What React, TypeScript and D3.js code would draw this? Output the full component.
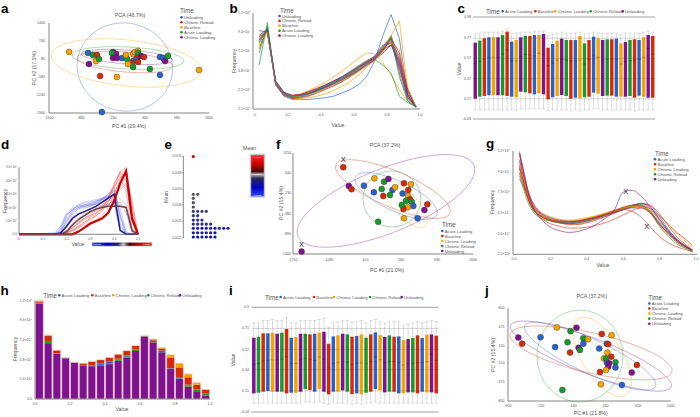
import React from "react";
import * as d3 from "d3";

const FONT = "'Liberation Sans', Arial, Helvetica, sans-serif";
const PALETTE = ["#2a62c8", "#d42a08", "#f4a400", "#17992c", "#7e138f"];
const TXT = "#555";

const LEGEND_AB = ["Unloading", "Chronic Reload", "Baseline", "Acute Loading", "Chronic Loading"];
const LEGEND_STD = ["Acute Loading", "Baseline", "Chronic Loading", "Chronic Reload", "Unloading"];

// ---------------- a: PCA ----------------
const pcaA = [
  [-1110, 340, 2], [-745, 300, 0], [-650, 225, 3], [-570, 225, 1], [-590, 5, 2], [-530, 80, 3], [-725, -105, 4],
  [-260, 340, 4], [-200, 265, 4], [-280, 300, 3], [-260, 115, 4], [-180, 115, 4], [-85, 115, 0], [10, 80, 3],
  [-10, 225, 2], [30, -105, 2], [130, -215, 3], [130, 5, 1], [130, 265, 2], [165, 340, 2], [225, 375, 2],
  [225, 300, 3], [205, 115, 1], [185, 45, 0], [225, -30, 1], [285, 190, 4], [340, 155, 1], [455, -285, 3],
  [650, 155, 0], [730, 80, 1], [710, 115, 0], [750, 5, 4], [805, 190, 3], [-510, -545, 1], [-185, -580, 2],
  [650, -505, 0], [1405, -325, 2], [-475, -1865, 0],
];
const ellA = [
  [-30, -215, 930, 1615, 12, 0],
  [0, -65, 1470, 845, 6, 2],
  [30, 115, 1085, 405, 3, 3],
  [-30, -30, 930, 365, 5, 1],
  [10, 155, 890, 255, 4, 4],
];
const aXTicks = [-1500, -880, -260, 360, 980, 1600];
const aYTicks = [1400, 740, 80, -580, -1240, -1900];

// ---------------- b: frequency lines ----------------
const bX = [0.025, 0.075, 0.125, 0.175, 0.225, 0.275, 0.325, 0.375, 0.425, 0.475, 0.525, 0.575, 0.625, 0.675, 0.725, 0.775, 0.825, 0.875, 0.925, 0.975];
const bColors = [4, 3, 1, 2, 0, 2, 2, 3, 4, 1, 0, 3, 1, 4, 2, 0];
const bSeries = [
  [92, 100, 33, 19, 15, 16, 19, 23, 27, 32, 37, 43, 50, 57, 63, 74, 86, 52, 16, 3],
  [55, 108, 30, 18, 14, 15, 18, 22, 26, 31, 36, 42, 49, 56, 62, 72, 92, 60, 18, 2],
  [88, 96, 35, 20, 16, 17, 20, 24, 28, 33, 38, 44, 51, 58, 64, 76, 88, 55, 14, 3],
  [80, 95, 31, 19, 16, 18, 21, 25, 29, 34, 39, 45, 52, 58, 62, 70, 82, 62, 20, 3],
  [82, 100, 30, 16, 12, 12, 12, 13, 14, 16, 20, 24, 30, 40, 60, 92, 118, 88, 18, 2],
  [78, 97, 33, 20, 17, 19, 23, 28, 33, 40, 47, 55, 63, 70, 69, 58, 42, 24, 10, 3],
  [84, 98, 31, 18, 13, 13, 14, 16, 19, 23, 28, 34, 42, 52, 62, 78, 92, 110, 25, 3],
  [90, 99, 34, 20, 16, 17, 20, 24, 29, 34, 40, 47, 54, 60, 62, 55, 45, 16, 8, 3],
  [98, 96, 32, 19, 16, 17, 19, 23, 27, 31, 36, 42, 48, 55, 61, 73, 88, 70, 25, 3],
  [75, 101, 34, 21, 17, 18, 21, 25, 30, 35, 40, 46, 53, 60, 66, 78, 90, 45, 12, 3],
  [86, 99, 32, 18, 14, 15, 17, 21, 25, 29, 34, 40, 47, 54, 61, 70, 80, 62, 22, 3],
  [70, 104, 33, 19, 15, 16, 19, 23, 28, 33, 38, 44, 51, 58, 65, 77, 89, 40, 10, 2],
  [90, 97, 31, 17, 13, 14, 16, 20, 24, 29, 34, 41, 48, 56, 63, 75, 84, 66, 22, 3],
  [86, 98, 35, 21, 17, 18, 22, 26, 30, 35, 40, 46, 52, 58, 64, 74, 80, 58, 18, 3],
  [87, 96, 33, 20, 16, 16, 18, 21, 25, 30, 35, 40, 46, 53, 60, 72, 84, 74, 28, 3],
  [84, 99, 34, 20, 16, 17, 19, 23, 28, 33, 39, 45, 52, 59, 66, 80, 82, 50, 14, 3],
];
const bYTicks = [0, 24, 48, 72, 96, 120];
const bYLabels = ["2.1×10^3", "2.5×10^4", "4.8×10^4", "7.1×10^4", "9.4×10^4", "1.2×10^5"];
const xTicks01 = [0, 0.2, 0.4, 0.6, 0.8, 1];
const bXLabels = ["0", "0.2", "0.4", "0.6", "0.8", "1.0"];
const xLabels01 = ["0.0", "0.2", "0.4", "0.6", "0.8", "1.0"];

// ---------------- c / i: box plots ----------------
const boxColors = [4, 3, 1, 0, 2, 4, 3, 1, 0, 2, 4, 3, 1, 0, 2, 4, 1, 0, 2, 4, 3, 1, 0, 2, 3, 1, 0, 2, 4, 3, 1, 0, 2, 4, 3, 1, 0, 2, 4, 1];
const cQ3 = [0.726, 0.746, 0.769, 0.779, 0.779, 0.779, 0.802, 0.835, 0.736, 0.752, 0.779, 0.792, 0.792, 0.802, 0.802, 0.812, 0.676, 0.713, 0.746, 0.766, 0.752, 0.752, 0.752, 0.792, 0.719, 0.752, 0.785, 0.769, 0.752, 0.759, 0.759, 0.766, 0.719, 0.732, 0.752, 0.759, 0.752, 0.779, 0.802, 0.792];
const cQ1 = [0.171, 0.191, 0.198, 0.205, 0.205, 0.205, 0.205, 0.198, 0.191, 0.185, 0.241, 0.234, 0.224, 0.214, 0.224, 0.214, 0.165, 0.185, 0.198, 0.208, 0.198, 0.171, 0.181, 0.175, 0.185, 0.191, 0.231, 0.221, 0.198, 0.201, 0.201, 0.191, 0.191, 0.191, 0.198, 0.181, 0.201, 0.191, 0.181, 0.181];
const cMed = [0.521, 0.544, 0.561, 0.581, 0.581, 0.581, 0.614, 0.653, 0.544, 0.544, 0.587, 0.61, 0.604, 0.594, 0.62, 0.61, 0.498, 0.521, 0.554, 0.561, 0.554, 0.544, 0.544, 0.554, 0.515, 0.561, 0.604, 0.581, 0.554, 0.561, 0.561, 0.561, 0.515, 0.538, 0.548, 0.554, 0.561, 0.581, 0.67, 0.614];
const cHi = [0.81, 0.82, 0.83, 0.83, 0.83, 0.83, 0.84, 0.86, 0.82, 0.82, 0.83, 0.83, 0.83, 0.84, 0.84, 0.84, 0.8, 0.81, 0.82, 0.83, 0.82, 0.82, 0.82, 0.83, 0.81, 0.82, 0.83, 0.82, 0.82, 0.82, 0.82, 0.82, 0.81, 0.82, 0.82, 0.82, 0.82, 0.83, 0.84, 0.83];
const cLo = [0.06, 0.06, 0.06, 0.06, 0.06, 0.06, 0.06, 0.06, 0.06, 0.06, 0.07, 0.07, 0.07, 0.07, 0.07, 0.07, 0.05, 0.06, 0.06, 0.06, 0.06, 0.05, 0.06, 0.05, 0.06, 0.06, 0.07, 0.07, 0.06, 0.06, 0.06, 0.06, 0.06, 0.06, 0.06, 0.05, 0.06, 0.06, 0.06, 0.06];
const cTicks = [0.98, 0.77, 0.57, 0.37, 0.17, -0.03];
const cTickLabels = ["0.98", "0.77", "0.57", "0.37", "0.17", "-0.03"];

const iQ3 = [0.627, 0.633, 0.666, 0.666, 0.672, 0.663, 0.672, 0.705, 0.627, 0.633, 0.663, 0.663, 0.657, 0.663, 0.672, 0.681, 0.573, 0.639, 0.648, 0.663, 0.657, 0.636, 0.642, 0.657, 0.627, 0.657, 0.675, 0.651, 0.633, 0.648, 0.636, 0.639, 0.606, 0.615, 0.624, 0.648, 0.624, 0.654, 0.657, 0.645];
const iQ1 = [0.127, 0.133, 0.142, 0.148, 0.142, 0.142, 0.142, 0.127, 0.133, 0.133, 0.142, 0.166, 0.157, 0.142, 0.166, 0.142, 0.118, 0.142, 0.142, 0.154, 0.142, 0.121, 0.127, 0.118, 0.133, 0.142, 0.166, 0.154, 0.136, 0.142, 0.142, 0.127, 0.127, 0.136, 0.136, 0.127, 0.142, 0.136, 0.136, 0.127];
const iMed = [0.388, 0.397, 0.418, 0.424, 0.427, 0.427, 0.436, 0.457, 0.397, 0.397, 0.427, 0.442, 0.433, 0.424, 0.454, 0.436, 0.358, 0.397, 0.406, 0.412, 0.406, 0.388, 0.397, 0.4, 0.397, 0.412, 0.454, 0.43, 0.406, 0.412, 0.412, 0.406, 0.382, 0.397, 0.397, 0.403, 0.403, 0.412, 0.478, 0.424];
const iHi = [0.76, 0.76, 0.78, 0.78, 0.79, 0.78, 0.78, 0.81, 0.76, 0.76, 0.78, 0.78, 0.78, 0.78, 0.79, 0.8, 0.72, 0.76, 0.77, 0.78, 0.78, 0.77, 0.77, 0.78, 0.76, 0.78, 0.79, 0.77, 0.76, 0.77, 0.77, 0.77, 0.74, 0.75, 0.76, 0.77, 0.76, 0.77, 0.78, 0.77];
const iLo = [0.04, 0.04, 0.04, 0.04, 0.04, 0.04, 0.04, 0.04, 0.04, 0.04, 0.04, 0.05, 0.05, 0.04, 0.05, 0.04, 0.03, 0.04, 0.04, 0.04, 0.04, 0.03, 0.04, 0.03, 0.04, 0.04, 0.05, 0.04, 0.04, 0.04, 0.04, 0.04, 0.04, 0.04, 0.04, 0.04, 0.04, 0.04, 0.04, 0.04];
const iTicks = [0.9, 0.71, 0.52, 0.34, 0.15, -0.04];
const iTickLabels = ["0.9", "0.71", "0.52", "0.34", "0.15", "-0.04"];

// ---------------- d: coloured frequency lines ----------------
const dX = [0, 0.15, 0.175, 0.2, 0.225, 0.25, 0.275, 0.3, 0.325, 0.35, 0.375, 0.4, 0.425, 0.45, 0.475, 0.5];
const dBlue = [
  [0, 0, 1, 9, 17, 20, 21, 22, 23, 25, 27, 30, 8, 0, 0, 0],
  [0, 0, 3, 13, 19, 21, 22, 23, 24, 26, 28, 26, 3, 0, 0, 0],
  [0, 0, 0, 6, 15, 19, 21, 22, 24, 27, 30, 33, 12, 0, 0, 0],
  [0, 1, 6, 16, 20, 22, 23, 24, 25, 26, 27, 22, 2, 0, 0, 0],
  [0, 0, 1, 7, 13, 16, 19, 21, 23, 26, 29, 32, 15, 1, 0, 0],
  [0, 0, 4, 14, 19, 21, 21, 22, 22, 24, 27, 28, 6, 0, 0, 0],
  [0, 0, 2, 10, 16, 19, 20, 21, 23, 26, 30, 35, 14, 0, 0, 0],
  [0, 0, 5, 15, 18, 20, 22, 23, 25, 27, 29, 24, 4, 0, 0, 0],
  [0, 0, 2, 11, 18, 22, 24, 25, 26, 27, 28, 30, 20, 2, 0, 0],
];
const dNavy = [0, 0, 1, 6, 12, 15, 17, 19, 21, 24, 27, 30, 3, 0, 0, 0];
const dMid = [
  [0, 0, 0, 2, 7, 11, 14, 17, 19, 20, 21, 21, 21, 20, 3, 0],
  [0, 0, 1, 5, 11, 15, 17, 19, 20, 21, 22, 23, 24, 16, 1, 0],
  [0, 0, 0, 3, 8, 12, 15, 17, 19, 21, 23, 25, 27, 22, 2, 0],
];
const dRed = [
  [0, 0, 0, 1, 3, 6, 9, 12, 14, 17, 24, 34, 45, 44, 10, 0],
  [0, 0, 0, 2, 5, 8, 11, 13, 16, 20, 27, 37, 47, 30, 2, 0],
  [0, 0, 0, 1, 4, 8, 12, 15, 18, 22, 28, 38, 46, 48, 14, 0],
  [0, 0, 0, 0, 2, 5, 8, 11, 14, 18, 24, 31, 40, 49, 22, 0],
  [0, 0, 0, 2, 5, 9, 12, 14, 17, 21, 27, 35, 43, 40, 5, 0],
  [0, 0, 1, 3, 7, 11, 14, 16, 18, 21, 25, 29, 33, 38, 9, 0],
  [0, 0, 0, 1, 3, 6, 9, 12, 15, 19, 26, 36, 47, 50, 16, 0],
  [0, 0, 0, 2, 5, 9, 12, 14, 16, 19, 22, 27, 35, 42, 26, 1],
  [0, 0, 0, 1, 3, 5, 7, 9, 11, 14, 20, 30, 42, 47, 20, 0],
];
const dRedThick = [0, 0, 0, 0, 0, 2, 5, 8, 10, 12, 16, 25, 38, 47, 12, 0];
const dYTicks = [0, 10, 20, 30, 40, 50];
const dYLabels = ["0.0", "1.0×10^4", "2.0×10^4", "3.0×10^4", "4.0×10^4", "5.0×10^4"];
const dXTicks = [0, 0.1, 0.2, 0.3, 0.4, 0.5];
const dXLabels = ["0", "0.1", "0.2", "0.3", "0.4", "0.5"];

// ---------------- e: dot plot of means ----------------
const eMeans = [0.00756, 0.00461, 0.0043, 0.00396, 0.00362, 0.00328, 0.00294, 0.0026, 0.00229, 0.00196, 0.00161, 0.00128];
const eCounts = [1, 2, 1, 1, 1, 4, 2, 3, 5, 9, 6, 6];
const eTicks = [0.0076, 0.0063, 0.005, 0.0038, 0.0025, 0.0012];
const eTickLabels = ["0.0076", "0.0063", "0.0050", "0.0038", "0.0025", "0.0012"];

// ---------------- f: PCA ----------------
const pcaF = [
  [-815, 790, 1], [-710, 315, 4], [-660, 235, 1], [-235, 510, 2], [-430, 325, 0], [-245, 160, 0], [-55, 425, 3],
  [25, 495, 4], [-100, 240, 3], [-70, 65, 1], [100, 215, 0], [150, 285, 2], [55, 90, 3], [315, 385, 1],
  [445, 360, 2], [395, 215, 1], [290, 130, 0], [395, 65, 2], [425, -20, 1], [355, -55, 3], [460, -80, 3],
  [490, -190, 0], [385, -220, 2], [305, -265, 1], [275, -165, 3], [750, -145, 1], [695, -290, 4], [570, -500, 0],
  [315, -500, 2], [-165, -585, 3], [-1590, -1340, 4],
];
const fOutliers = [0, 30];
const ellF = [
  [-20, -60, 1768, 808, -22, 4],
  [110, 240, 1154, 455, 23, 1],
  [170, 65, 837, 379, 25, 0],
  [90, -10, 540, 707, 10, 3],
  [335, -140, 558, 303, 48, 2],
];
const fXTicks = [-1750, -1080, -410, 260, 930, 1600];
const fYTicks = [1150, 640, 130, -380, -890, -1400];

// ---------------- g: smoothed frequency ----------------
const gX = [0.03, 0.05, 0.075, 0.1, 0.125, 0.15, 0.2, 0.25, 0.3, 0.35, 0.4, 0.45, 0.5, 0.55, 0.6, 0.65, 0.7, 0.75, 0.8, 0.85, 0.9, 0.95, 0.98];
const gColors = [0, 1, 2, 3, 4, 0, 1, 2, 3, 4, 1, 2, 1, 4, 1];
const gSeries = [
  [88, 80, 68, 58, 52, 48, 43, 40, 39, 40, 42, 45, 48, 52, 55, 58, 60, 57, 45, 30, 18, 10, 6],
  [115, 97, 75, 61, 53, 48, 42, 39, 37, 37, 39, 42, 45, 49, 53, 56, 57, 50, 36, 25, 15, 9, 6],
  [120, 100, 78, 63, 55, 50, 45, 42, 41, 42, 44, 46, 49, 52, 55, 57, 56, 48, 34, 24, 16, 10, 7],
  [100, 85, 66, 54, 48, 45, 40, 38, 38, 39, 41, 44, 47, 51, 55, 58, 59, 53, 40, 27, 16, 9, 5],
  [110, 93, 72, 59, 51, 46, 41, 38, 37, 38, 40, 43, 47, 51, 55, 58, 60, 55, 42, 29, 18, 10, 6],
  [102, 88, 70, 58, 51, 47, 42, 39, 38, 39, 41, 44, 47, 51, 54, 56, 57, 51, 37, 25, 15, 9, 6],
  [108, 92, 71, 58, 50, 46, 41, 38, 36, 36, 38, 41, 45, 49, 53, 57, 60, 58, 48, 34, 21, 12, 7],
  [96, 84, 68, 57, 51, 47, 43, 41, 40, 41, 43, 45, 48, 51, 54, 56, 56, 49, 35, 24, 15, 9, 6],
  [92, 78, 62, 52, 46, 43, 40, 38, 37, 38, 40, 43, 46, 50, 54, 57, 58, 50, 34, 22, 13, 8, 5],
  [118, 98, 76, 62, 54, 49, 44, 41, 40, 40, 42, 44, 47, 50, 53, 55, 55, 49, 36, 26, 17, 10, 7],
  [104, 88, 68, 55, 48, 43, 37, 34, 32, 32, 33, 35, 38, 42, 47, 52, 55, 50, 38, 27, 18, 11, 7],
  [106, 90, 70, 57, 50, 46, 42, 40, 40, 41, 43, 46, 49, 52, 55, 57, 56, 52, 44, 35, 25, 15, 10],
  [95, 82, 66, 55, 49, 45, 41, 40, 39, 40, 42, 45, 48, 52, 56, 58, 57, 54, 46, 36, 26, 18, 12],
  [118, 100, 75, 58, 48, 42, 33, 29, 27, 28, 31, 36, 43, 52, 73, 75, 68, 56, 42, 28, 17, 10, 6],
  [100, 86, 68, 56, 49, 45, 41, 39, 39, 40, 42, 44, 47, 50, 53, 51, 44, 33, 22, 15, 10, 7, 5],
];
const gMarks = [[0.614, 73.5], [0.73, 34]];
const gYTicks = [2, 25.6, 49.2, 72.8, 96.4, 120];
const gYLabels = ["2.0×10^3", "2.6×10^4", "4.9×10^4", "7.3×10^4", "9.6×10^4", "1.2×10^5"];

// ---------------- h: stacked histogram ----------------
const hBins = [0, 0.05, 0.1, 0.15, 0.2, 0.25, 0.3, 0.35, 0.4, 0.45, 0.5, 0.55, 0.6, 0.65, 0.7, 0.75, 0.8, 0.85, 0.9, 0.95];
const hPurple = [116, 68, 55, 49.4, 44.3, 41, 40, 41, 42.5, 46.5, 50.5, 58.5, 76, 69, 57, 36.5, 24.5, 15, 9.5, 4];
const hGreen = [0.5, 1.5, 0.5, 0.3, 0.2, 0.3, 0.5, 0.5, 1, 1.5, 1.5, 2, 0.3, 1.8, 1.5, 0.5, 0.5, 1.5, 1.8, 3];
const hBlue = [0.5, 1, 0.3, 0.2, 0.2, 0.2, 0.5, 1.5, 2, 1, 1, 0.5, 0.2, 0.3, 0.5, 0.5, 1.5, 1, 0.7, 0.3];
const hRed = [1, 6.5, 3.5, 0.4, 0, 2, 4.5, 4.5, 5, 5.5, 5.5, 3.5, 0.3, 1.5, 2.4, 13, 12, 9, 5.5, 4];
const hOrange = [2, 1, 0.3, 0.3, 0.2, 0.2, 0.2, 0.3, 0.1, 0.2, 0.3, 0.8, 0.3, 0.5, 1.5, 3.4, 5.2, 4.1, 2.5, 0.5];
const hYTicks = [0, 24, 48, 72, 96, 120];
const hYLabels = ["0.0", "2.4×10^4", "4.8×10^4", "7.2×10^4", "9.6×10^4", "1.2×10^5"];

// ---------------- j: PCA ----------------
const pcaJ = [
  [-780, 295, 4], [-735, 190, 1], [-520, 300, 0], [-350, 130, 0], [-330, 470, 2], [-170, 405, 3], [-100, 465, 4],
  [-205, 215, 3], [-175, 35, 1], [-75, 120, 4], [-60, 80, 3], [-20, 285, 3], [-20, 190, 0], [35, 265, 2],
  [195, 355, 1], [310, 335, 2], [165, 105, 0], [255, 190, 0], [270, 180, 1], [260, 35, 2], [305, -35, 1],
  [220, -65, 2], [245, -65, 3], [255, -140, 0], [280, -150, 4], [270, -210, 4], [355, -130, 3], [355, -220, 0],
  [245, -265, 2], [175, -300, 1], [605, -180, 1], [545, -310, 4], [185, -510, 2], [430, -525, 0], [-265, -610, 3],
];
const ellJ = [
  [70, -25, 1004, 311, 21, 4],
  [70, 30, 970, 345, 13, 1],
  [60, -25, 841, 293, 25, 0],
  [-60, -25, 502, 794, 0, 3],
  [200, -40, 526, 345, 58, 2],
];
const jXTicks = [-900, -520, -140, 240, 620, 1000];
const jYTicks = [800, 475, 150, -150, -475, -800];

// ================= helpers =================
function Sci({ x, y, s, fs = 3.6, anchor = "end" }: any) {
  const parts = s.split("^");
  return (
    <text x={x} y={y} fontSize={fs} fill={TXT} textAnchor={anchor} dominantBaseline="central">
      {parts[0]}
      {parts.length > 1 && (
        <tspan fontSize={fs * 0.7} dy={-fs * 0.45}>
          {parts[1]}
        </tspan>
      )}
    </text>
  );
}

function VTitle({ x, y, s, fs = 5.2 }: any) {
  return (
    <text transform={`translate(${x},${y}) rotate(-90)`} fontSize={fs} fill={TXT} textAnchor="middle" dominantBaseline="central">
      {s}
    </text>
  );
}

function HText({ x, y, s, fs = 5.2, fill = TXT }: any) {
  return (
    <text x={x} y={y} fontSize={fs} fill={fill} textAnchor="middle" dominantBaseline="central">
      {s}
    </text>
  );
}

function Letter({ x, y, s }: any) {
  return (
    <text x={x} y={y} fontSize={13.5} fontWeight="bold" fill="#000">
      {s}
    </text>
  );
}

function VLegend({ tx, ty, dx, y0, dy, labels }: any) {
  return (
    <g>
      <text x={tx} y={ty} fontSize={6.3} fill={TXT}>Time</text>
      {labels.map((l: string, i: number) => (
        <g key={i}>
          <circle cx={dx} cy={y0 + i * dy} r={1.3} fill={PALETTE[i]} />
          <text x={dx + 2.4} y={y0 + i * dy} fontSize={4.3} fill={TXT} dominantBaseline="central">{l}</text>
        </g>
      ))}
    </g>
  );
}

function HLegend({ tx, y, dots, labels }: any) {
  return (
    <g>
      <text x={tx} y={y} fontSize={6.3} fill={TXT} dominantBaseline="central">Time</text>
      {labels.map((l: string, i: number) => (
        <g key={i}>
          <circle cx={dots[i]} cy={y} r={1.3} fill={PALETTE[i]} />
          <text x={dots[i] + 2.3} y={y} fontSize={4.3} fill={TXT} dominantBaseline="central">{l}</text>
        </g>
      ))}
    </g>
  );
}

function PCA({ pts, ells, xs, ys, xTicks, yTicks, xLabY, yLabX, marks = [] }: any) {
  const [x0, x1] = xs.range();
  const [y0, y1] = ys.range();
  return (
    <g>
      {ells.map((e: number[], i: number) => {
        const [cx, cy, rx, ry, ang, c] = e;
        const px = xs(cx), py = ys(cy);
        return (
          <ellipse key={i} cx={0} cy={0} rx={Math.abs(xs(cx + rx) - px)} ry={Math.abs(ys(cy + ry) - py)}
            transform={`translate(${px},${py}) rotate(${ang})`} fill="none" stroke={PALETTE[c]} strokeOpacity={0.42} strokeWidth={0.8} />
        );
      })}
      <line x1={x0} y1={y0} x2={x1} y2={y0} stroke="#666" strokeWidth={0.8} />
      <line x1={x0} y1={y0} x2={x0} y2={y1} stroke="#666" strokeWidth={0.8} />
      {xTicks.map((t: number) => (
        <text key={"x" + t} x={xs(t)} y={xLabY} fontSize={3.6} fill={TXT} textAnchor="middle" dominantBaseline="central">{t}</text>
      ))}
      {yTicks.map((t: number) => (
        <text key={"y" + t} x={yLabX} y={ys(t)} fontSize={3.6} fill={TXT} textAnchor="end" dominantBaseline="central">{t}</text>
      ))}
      {pts.map((p: number[], i: number) => (
        <circle key={i} cx={xs(p[0])} cy={ys(p[1])} r={3} fill={PALETTE[p[2]]} stroke="#333" strokeWidth={0.4} />
      ))}
      {marks.map((i: number) => (
        <text key={"m" + i} x={xs(pts[i][0])} y={ys(pts[i][1]) - 5} fontSize={7.5} textAnchor="middle" fill="#222">X</text>
      ))}
    </g>
  );
}

function Boxes({ xr, ys, q1, q3, med, hi, lo, ticks, labels, labX }: any) {
  const xb = d3.scaleBand<number>().domain(boxColors.map((_, i) => i)).range(xr).paddingInner(0.25).paddingOuter(0.12);
  const bw = xb.bandwidth();
  const last = ticks.length - 1;
  return (
    <g>
      {ticks.map((t: number, i: number) => (
        <line key={"g" + i} x1={xr[0]} x2={xr[1]} y1={ys(t)} y2={ys(t)}
          stroke={i === 0 || i === last ? "#a0a0a0" : "#d0d0d0"} strokeWidth={i === 0 || i === last ? 1 : 0.5} />
      ))}
      {ticks.map((t: number, i: number) => (
        <text key={"l" + i} x={labX} y={ys(t)} fontSize={3.6} fill={TXT} textAnchor="end" dominantBaseline="central">{labels[i]}</text>
      ))}
      {q1.map((_: number, i: number) => {
        const x = xb(i) as number;
        const cx = x + bw / 2;
        return (
          <g key={i}>
            <line x1={cx} x2={cx} y1={ys(hi[i])} y2={ys(q3[i])} stroke="#b8b8b8" strokeWidth={0.5} />
            <line x1={cx} x2={cx} y1={ys(q1[i])} y2={ys(lo[i])} stroke="#b8b8b8" strokeWidth={0.5} />
            <line x1={x} x2={x + bw} y1={ys(hi[i])} y2={ys(hi[i])} stroke="#b8b8b8" strokeWidth={0.5} />
            <line x1={x} x2={x + bw} y1={ys(lo[i])} y2={ys(lo[i])} stroke="#b8b8b8" strokeWidth={0.5} />
            <rect x={x} y={ys(q3[i])} width={bw} height={ys(q1[i]) - ys(q3[i])} fill={PALETTE[boxColors[i]]} />
            <line x1={x} x2={x + bw} y1={ys(med[i])} y2={ys(med[i])} stroke="#000" strokeOpacity={0.45} strokeWidth={0.5} />
          </g>
        );
      })}
      {ticks.slice(1, last).map((t: number, i: number) => (
        <line key={"o" + i} x1={xr[0]} x2={xr[1]} y1={ys(t)} y2={ys(t)} stroke="#000" strokeOpacity={0.15} strokeWidth={0.5} />
      ))}
    </g>
  );
}

function Axes2({ x0, x1, y0, y1 }: any) {
  return (
    <g>
      <line x1={x0} y1={y0} x2={x1} y2={y0} stroke="#666" strokeWidth={0.8} />
      <line x1={x0} y1={y0} x2={x0} y2={y1} stroke="#666" strokeWidth={0.8} />
    </g>
  );
}

export default function App() {
  React.useEffect(() => {
    document.body.style.margin = "0";
  }, []);

  const ax = d3.scaleLinear().domain([-1500, 1600]).range([49, 209]);
  const ay = d3.scaleLinear().domain([-1900, 1400]).range([113, 23]);

  const bx = d3.scaleLinear().domain([0, 1]).range([255, 420]);
  const by = d3.scaleLinear().domain([0, 120]).range([109, 13]);
  const bLine = d3.line<number>().x((_, i) => bx(bX[i])).y((v) => by(v));

  const cy = d3.scaleLinear().domain([-0.03, 0.98]).range([119, 17]);
  const iy = d3.scaleLinear().domain([-0.04, 0.9]).range([412, 307.3]);

  const dx = d3.scaleLinear().domain([0, 0.5]).range([19, 138]);
  const dy = d3.scaleLinear().domain([0, 50]).range([234.3, 167.3]);
  const dLine = d3.line<number>().x((_, i) => dx(dX[i])).y((v) => dy(v));

  const ey = d3.scaleLinear().domain([0.0012, 0.0076]).range([238, 156]);
  const ex = d3.scaleLinear().domain([0, 8]).range([193.3, 228]);
  const eColor = d3.scaleLinear<string>().domain([0.0012, 0.0045, 0.0076]).range(["#0c0cb4", "#5a5a5a", "#cc0000"]);

  const fx = d3.scaleLinear().domain([-1750, 1600]).range([293, 473]);
  const fy = d3.scaleLinear().domain([-1400, 1150]).range([254, 153]);

  const gx = d3.scaleLinear().domain([0, 1]).range([514, 696]);
  const gy = d3.scaleLinear().domain([2, 120]).range([254.3, 151]);
  const gLine = d3.line<number>().x((_, i) => gx(gX[i])).y((v) => gy(v)).curve(d3.curveMonotoneX);

  const hx = d3.scaleLinear().domain([0, 1]).range([35, 210]);
  const hy = d3.scaleLinear().domain([0, 120]).range([399, 300.5]);
  const hRows = hBins.map((b, i) => ({ b, p: hPurple[i], g: hGreen[i], bl: hBlue[i], r: hRed[i], o: hOrange[i] }));
  const hKeys = ["p", "g", "bl", "r", "o"];
  const hKeyColor: any = { p: PALETTE[4], g: PALETTE[3], bl: PALETTE[0], r: PALETTE[1], o: PALETTE[2] };
  const hStack = d3.stack<any>().keys(hKeys)(hRows);
  const hBW = hx(0.05) - hx(0);

  const jx = d3.scaleLinear().domain([-900, 1000]).range([508, 670.7]);
  const jy = d3.scaleLinear().domain([-800, 800]).range([401, 308.3]);

  return (
    <svg width={700} height={417} style={{ position: "absolute", left: 0, top: 0, background: "#fff" }} fontFamily={FONT}>
      <defs>
        <linearGradient id="meanV" x1="0" y1="0" x2="0" y2="1">
          <stop offset="0%" stopColor="#ff2a2a" />
          <stop offset="22%" stopColor="#d00000" />
          <stop offset="40%" stopColor="#4a0808" />
          <stop offset="47%" stopColor="#b8b8b8" />
          <stop offset="56%" stopColor="#2a2a55" />
          <stop offset="78%" stopColor="#0000c8" />
          <stop offset="100%" stopColor="#3050ff" />
        </linearGradient>
        <linearGradient id="meanH" x1="0" y1="0" x2="1" y2="0">
          <stop offset="0%" stopColor="#3050ff" />
          <stop offset="25%" stopColor="#0000c0" />
          <stop offset="45%" stopColor="#2a2a55" />
          <stop offset="52%" stopColor="#b0b0b0" />
          <stop offset="62%" stopColor="#4a0808" />
          <stop offset="80%" stopColor="#d00000" />
          <stop offset="100%" stopColor="#ff3030" />
        </linearGradient>
      </defs>

      {/* ================= a ================= */}
      <Letter x={1} y={13} s="a" />
      <HText x={130} y={14.5} s="PCA (46.7%)" fs={5.3} />
      <PCA pts={pcaA} ells={ellA} xs={ax} ys={ay} xTicks={aXTicks} yTicks={aYTicks} xLabY={117.5} yLabX={45} />
      <VTitle x={34} y={68} s="PC #2 (17.3%)" />
      <HText x={129} y={126.3} s="PC #1 (29.4%)" />
      <VLegend tx={180} ty={13} dx={181.5} y0={17.3} dy={5} labels={LEGEND_AB} />

      {/* ================= b ================= */}
      <Letter x={229.5} y={13} s="b" />
      {bSeries.map((s, i) => (
        <path key={i} d={bLine(s) || ""} fill="none" stroke={PALETTE[bColors[i]]} strokeWidth={0.75} strokeOpacity={0.9} />
      ))}
      <Axes2 x0={253} x1={420} y0={109} y1={13} />
      {xTicks01.map((t, i) => (
        <text key={i} x={bx(t)} y={114.5} fontSize={3.6} fill={TXT} textAnchor="middle" dominantBaseline="central">{bXLabels[i]}</text>
      ))}
      {bYTicks.map((t, i) => (
        <Sci key={i} x={250.5} y={by(t)} s={bYLabels[i]} />
      ))}
      <VTitle x={233.5} y={61} s="Frequency" />
      <HText x={338} y={124.7} s="Value" />
      <VLegend tx={280} ty={12.7} dx={279.5} y0={16} dy={4.9} labels={LEGEND_AB} />

      {/* ================= c ================= */}
      <Letter x={457.5} y={13} s="c" />
      <HLegend tx={486} y={11.3} dots={[502.7, 535.3, 555.3, 590.7, 622.7]} labels={LEGEND_STD} />
      <Boxes xr={[473, 655]} ys={cy} q1={cQ1} q3={cQ3} med={cMed} hi={cHi} lo={cLo} ticks={cTicks} labels={cTickLabels} labX={471} />
      <VTitle x={458.5} y={69} s="Value" />

      {/* ================= d ================= */}
      <Letter x={1} y={149} s="d" />
      {dBlue.map((s, i) => (
        <path key={"db" + i} d={dLine(s) || ""} fill="none" stroke="#3a44e0" strokeWidth={0.6} strokeOpacity={0.45} />
      ))}
      {dMid.map((s, i) => (
        <path key={"dm" + i} d={dLine(s) || ""} fill="none" stroke="#7a4a68" strokeWidth={0.6} strokeOpacity={0.5} />
      ))}
      {dRed.map((s, i) => (
        <path key={"dr" + i} d={dLine(s) || ""} fill="none" stroke="#dd1a1a" strokeWidth={0.6} strokeOpacity={0.45} />
      ))}
      <path d={dLine(dNavy) || ""} fill="none" stroke="#1a1a8c" strokeWidth={1.4} />
      <path d={dLine(dMid[0]) || ""} fill="none" stroke="#6a4450" strokeWidth={1.5} />
      <path d={dLine(dRedThick) || ""} fill="none" stroke="#cc0000" strokeWidth={2.2} />
      <Axes2 x0={19} x1={138} y0={234.3} y1={167.3} />
      {dXTicks.map((t, i) => (
        <text key={i} x={dx(t)} y={239.3} fontSize={3.2} fill={TXT} textAnchor="middle" dominantBaseline="central">{dXLabels[i]}</text>
      ))}
      {dYTicks.map((t, i) => (
        <Sci key={i} x={17} y={dy(t)} s={dYLabels[i]} fs={3.2} />
      ))}
      <VTitle x={4.5} y={201} s="Frequency" />
      <HText x={78} y={244.3} s="Value" />
      <rect x={92} y={242.3} width={60} height={3.8} fill="url(#meanH)" stroke="#ccc" strokeWidth={0.6} />
      <text x={94} y={244.3} fontSize={2.2} fill="#fff" dominantBaseline="central">0.0012</text>
      <text x={122} y={244.3} fontSize={2.2} fill="#fff" textAnchor="middle" dominantBaseline="central">0.0045</text>
      <text x={150} y={244.3} fontSize={2.2} fill="#fff" textAnchor="end" dominantBaseline="central">0.0076</text>

      {/* ================= e ================= */}
      <Letter x={164.5} y={149} s="e" />
      <line x1={183.3} x2={183.3} y1={156} y2={238} stroke="#666" strokeWidth={0.8} />
      {eTicks.map((t, i) => (
        <g key={i}>
          <line x1={182} x2={183.3} y1={ey(t)} y2={ey(t)} stroke="#666" strokeWidth={0.5} />
          <text x={181.5} y={ey(t)} fontSize={3} fill={TXT} textAnchor="end" dominantBaseline="central">{eTickLabels[i]}</text>
        </g>
      ))}
      <VTitle x={166.5} y={197} s="Mean" fs={4.5} />
      {eMeans.map((m, r) =>
        d3.range(eCounts[r]).map((k) => (
          <circle key={r + "-" + k} cx={ex(k)} cy={ey(m)} r={1.6} fill={eColor(m)} />
        ))
      )}

      {/* Mean colour bar */}
      <text x={243} y={150} fontSize={5.3} fill={TXT}>Mean</text>
      <rect x={250.5} y={154.5} width={14} height={42.5} fill="url(#meanV)" stroke="#c8c8c8" strokeWidth={1.4} />
      <text x={257.5} y={157.5} fontSize={2.4} fill="#fff" textAnchor="middle" dominantBaseline="central">0.0076</text>
      <text x={257.5} y={174.5} fontSize={2.4} fill="#fff" textAnchor="middle" dominantBaseline="central">0.0045</text>
      <text x={257.5} y={195} fontSize={2.4} fill="#fff" textAnchor="middle" dominantBaseline="central">0.0012</text>

      {/* ================= f ================= */}
      <Letter x={276} y={149} s="f" />
      <HText x={385} y={144.5} s="PCA (37.2%)" fs={5.3} />
      <PCA pts={pcaF} ells={ellF} xs={fx} ys={fy} xTicks={fXTicks} yTicks={fYTicks} xLabY={259.5} yLabX={291} marks={fOutliers} />
      <VTitle x={280.5} y={203} s="PC #2 (15.4%)" />
      <HText x={387} y={269.5} s="PC #1 (21.0%)" />
      <VLegend tx={442} ty={227.3} dx={442.3} y0={231} dy={5} labels={LEGEND_STD} />

      {/* ================= g ================= */}
      <Letter x={486} y={148} s="g" />
      {gSeries.map((s, i) => (
        <path key={i} d={gLine(s) || ""} fill="none" stroke={PALETTE[gColors[i]]} strokeWidth={0.7} strokeOpacity={0.85} />
      ))}
      <Axes2 x0={513} x1={697} y0={254.3} y1={151} />
      {xTicks01.map((t, i) => (
        <text key={i} x={gx(t)} y={258.8} fontSize={3.6} fill={TXT} textAnchor="middle" dominantBaseline="central">{xLabels01[i]}</text>
      ))}
      {gYTicks.map((t, i) => (
        <Sci key={i} x={510} y={gy(t)} s={gYLabels[i]} />
      ))}
      {gMarks.map((m, i) => (
        <text key={i} x={gx(m[0])} y={gy(m[1]) + 2.6} fontSize={7.5} textAnchor="middle" fill="#222">X</text>
      ))}
      <VTitle x={492} y={202} s="Frequency" />
      <HText x={603} y={265.3} s="Value" />
      <VLegend tx={655} ty={155.7} dx={655} y0={159.3} dy={5} labels={LEGEND_STD} />

      {/* ================= h ================= */}
      <Letter x={0.5} y={295} s="h" />
      <HLegend tx={43.3} y={295.3} dots={[59.3, 92.3, 113.3, 148.3, 180]} labels={LEGEND_STD} />
      {hStack.map((layer: any) =>
        layer.map((seg: any, i: number) => (
          <rect key={layer.key + i} x={hx(hBins[i]) + 0.5} width={hBW - 1} y={hy(seg[1])} height={Math.max(0, hy(seg[0]) - hy(seg[1]))} fill={hKeyColor[layer.key]} />
        ))
      )}
      {hRows.map((r, i) => {
        const tot = r.p + r.g + r.bl + r.r + r.o;
        return <rect key={"ol" + i} x={hx(hBins[i]) + 0.5} width={hBW - 1} y={hy(tot)} height={hy(0) - hy(tot)} fill="none" stroke="#f3cccc" strokeWidth={0.7} />;
      })}
      <Axes2 x0={35} x1={210} y0={399} y1={300.5} />
      {xTicks01.map((t, i) => (
        <text key={i} x={hx(t)} y={403.5} fontSize={3.6} fill={TXT} textAnchor="middle" dominantBaseline="central">{xLabels01[i]}</text>
      ))}
      {hYTicks.map((t, i) => (
        <Sci key={i} x={32} y={hy(t)} s={hYLabels[i]} />
      ))}
      <VTitle x={14.5} y={349} s="Frequency" />
      <HText x={122} y={409.3} s="Value" />

      {/* ================= i ================= */}
      <Letter x={229} y={295} s="i" />
      <HLegend tx={265} y={297} dots={[280.7, 314, 334, 370, 401.7]} labels={LEGEND_STD} />
      <Boxes xr={[251.5, 438.5]} ys={iy} q1={iQ1} q3={iQ3} med={iMed} hi={iHi} lo={iLo} ticks={iTicks} labels={iTickLabels} labX={249} />
      <VTitle x={233.3} y={360} s="Value" />

      {/* ================= j ================= */}
      <Letter x={485} y={294.5} s="j" />
      <HText x={591.7} y={295.5} s="PCA (37.2%)" fs={5.3} />
      <PCA pts={pcaJ} ells={ellJ} xs={jx} ys={jy} xTicks={jXTicks} yTicks={jYTicks} xLabY={406} yLabX={504.5} />
      <VTitle x={493} y={355} s="PC #2 (15.4%)" />
      <HText x={590.7} y={413} s="PC #1 (21.8%)" />
      <VLegend tx={648.3} ty={300.3} dx={649.3} y0={303.5} dy={5.05} labels={LEGEND_STD} />
    </svg>
  );
}
